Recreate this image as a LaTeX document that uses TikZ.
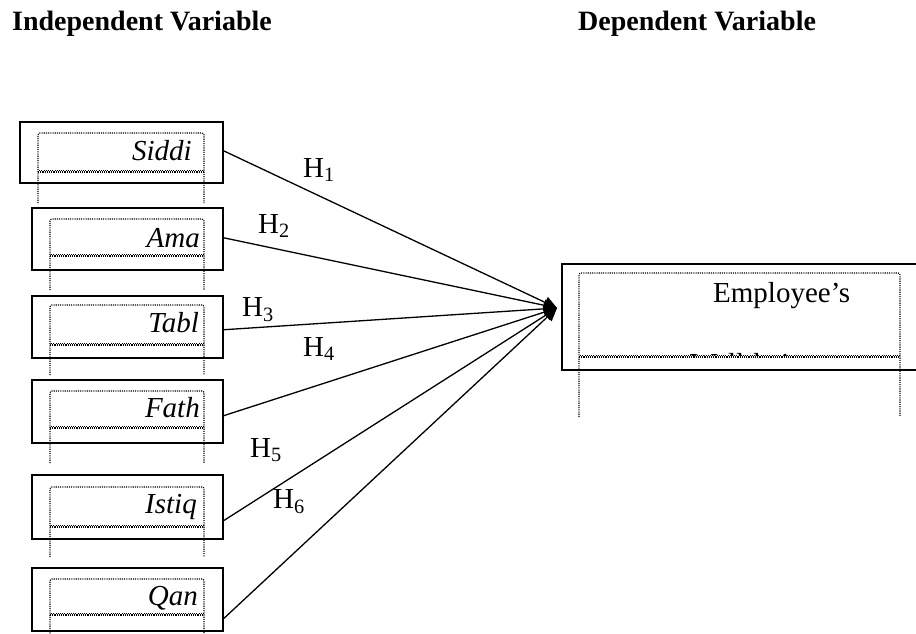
\documentclass[tikz,border=0pt]{standalone}
\usepackage{fontspec}
\setmainfont{Liberation Serif}
\usetikzlibrary{arrows.meta}
\newcommand\mydotbox[5]{%
  \draw[dotline, rounded corners=2pt] (#1,#5) -- (#1,#2) -- (#3,#2) -- (#3,#5);
  \draw[dotline] (#1,#4) -- (#3,#4);
  \draw[dotline, dash phase=1.1pt] (#1,#4-1.4) -- (#3,#4-1.4);
}
\begin{document}
\begin{tikzpicture}[x=1pt,y=-1pt,
  outerbox/.style={draw, line width=1.5pt, inner sep=0pt, anchor=north west},
  dotline/.style={line width=1.15pt, dash pattern=on 1.1pt off 1.1pt},
  lbl/.style={font=\fontsize{29}{33}\selectfont\itshape, inner sep=0pt, anchor=base east},
  hyp/.style={font=\fontsize{29}{33}\selectfont, inner sep=0pt},
  ttl/.style={font=\fontsize{28}{32}\selectfont\bfseries, inner sep=0pt, anchor=base west},
  conn/.style={line width=1.3pt, -{Triangle[length=13pt,width=12pt]}}]
\clip (0,0) rectangle (916,634);
\fill[white] (0,0) rectangle (916,634);

% titles
\node[ttl] (t1) at (12,31) {Independent Variable};
\node[ttl] (t2) at (578,31) {Dependent Variable};

% inner dotted boxes
\mydotbox{38}{133}{204}{172}{203}
\mydotbox{50}{219}{204}{256}{290}
\mydotbox{50}{305}{204}{345}{375}
\mydotbox{50}{391}{204}{428}{463}
\mydotbox{50}{487}{204}{527}{557}
\mydotbox{50}{579}{204}{615}{640}
\mydotbox{579}{273}{900}{357}{417}

% outer boxes
\node[outerbox, minimum width=203pt, minimum height=61pt] (b1) at (19,121) {};
\node[outerbox, minimum width=191pt, minimum height=62pt] (b2) at (31,207) {};
\node[outerbox, minimum width=191pt, minimum height=62pt] (b3) at (31,295) {};
\node[outerbox, minimum width=191pt, minimum height=63pt] (b4) at (31,379) {};
\node[outerbox, minimum width=191pt, minimum height=64pt] (b5) at (31,474) {};
\node[outerbox, minimum width=191pt, minimum height=63pt] (b6) at (31,567) {};
\node[outerbox, minimum width=400pt, minimum height=106pt] (dv) at (561,263) {};

% labels
\node[lbl] (l1) at (192,160) {Siddi};
\node[lbl] (l2) at (200,247) {Ama};
\node[lbl] (l3) at (199,332) {Tabl};
\node[lbl] (l4) at (200,417) {Fath};
\node[lbl] (l5) at (197,513) {Istiq};
\node[lbl] (l6) at (198,605) {Qan};
\node[font=\fontsize{29}{33}\selectfont, inner sep=0pt, anchor=base west] (emp) at (713,302) {Employee’s};
\begin{scope}
  \clip (579,273) rectangle (900,355.5);
  \node[font=\fontsize{29}{33}\selectfont, inner sep=0pt, anchor=base west] (wb) at (690,373) {Well-being};
\end{scope}

% connectors
\coordinate (tip) at (557,308);
\draw[conn] ([yshift=1.5pt]b1.east) -- (tip);
\draw[conn] ([yshift=1pt]b2.east) -- (tip);
\draw[conn] ([yshift=-3pt]b3.east) -- (tip);
\draw[conn] ([yshift=-4.5pt]b4.east) -- (tip);
\draw[conn] ([yshift=-14pt]b5.east) -- (tip);
\draw[conn] ([yshift=-19.5pt]b6.east) -- (tip);

% hypothesis labels
\node[hyp] (h1) at (319,170) {H\textsubscript{1}};
\node[hyp] (h2) at (274,226) {H\textsubscript{2}};
\node[hyp] (h3) at (258,310) {H\textsubscript{3}};
\node[hyp] (h4) at (319,349) {H\textsubscript{4}};
\node[hyp] (h5) at (266,450) {H\textsubscript{5}};
\node[hyp] (h6) at (289,502) {H\textsubscript{6}};
\end{tikzpicture}
\end{document}
